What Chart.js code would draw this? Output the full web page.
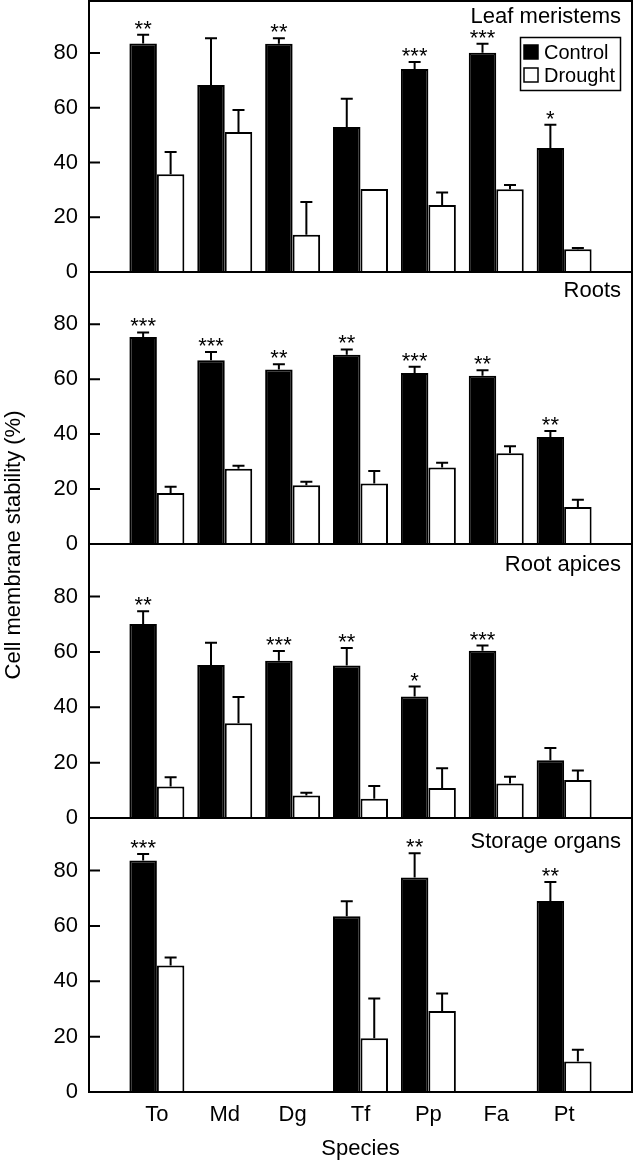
<!DOCTYPE html>
<html>
<head>
<meta charset="utf-8">
<script src="https://cdn.jsdelivr.net/npm/chart.js@4.4.1/dist/chart.umd.min.js"></script>
<style>
  html, body { margin: 0; padding: 0; background: #fff; }
  #wrap { position: relative; width: 633px; height: 1165px; }
  #wrap canvas { position: absolute; left: 0; top: 0; }
</style>
</head>
<body>
<div id="wrap">
  <canvas id="p0" width="633" height="1165"></canvas>
  <canvas id="p1" width="633" height="1165"></canvas>
  <canvas id="p2" width="633" height="1165"></canvas>
  <canvas id="p3" width="633" height="1165"></canvas>
</div>
<script>
const species = ["To", "Md", "Dg", "Tf", "Pp", "Fa", "Pt"];
const yTicks = [0, 20, 40, 60, 80];

// leaf meristems
const leafCtrl = [83.5, 68.3, 83.4, 53.0, 74.2, 80.1, 45.3];
const leafCtrlErr = [86.7, 85.4, 85.4, 63.3, 76.7, 83.4, 53.8];
const leafDrt = [35.7, 51.1, 13.6, 30.3, 24.5, 30.2, 8.3];
const leafDrtErr = [43.8, 59.2, 25.6, null, 29.0, 31.8, 8.8];
const leafStars = ["**", "", "**", "", "***", "***", "*"];

// roots
const rootCtrl = [75.3, 66.9, 63.5, 68.9, 62.2, 61.2, 38.9];
const rootCtrlErr = [77.0, 69.9, 65.4, 70.8, 64.5, 63.2, 41.1];
const rootDrt = [18.6, 27.4, 21.4, 22.0, 27.8, 33.0, 13.5];
const rootDrtErr = [20.8, 28.5, 22.7, 26.6, 29.6, 35.6, 16.1];
const rootStars = ["***", "***", "**", "**", "***", "**", "**"];

// root apices
const apexCtrl = [70.1, 55.3, 56.8, 55.1, 43.9, 60.4, 20.9];
const apexCtrlErr = [74.7, 63.3, 60.3, 61.4, 47.5, 62.3, 25.3];
const apexDrt = [11.4, 34.2, 8.1, 7.0, 10.8, 12.5, 13.7];
const apexDrtErr = [14.7, 43.7, 9.1, 11.6, 18.0, 14.9, 17.2];
const apexStars = ["**", "", "***", "**", "*", "***", ""];

// storage organs
const storCtrl = [83.6, null, null, 63.5, 77.5, null, 69.0];
const storCtrlErr = [86.0, null, null, 68.9, 86.3, null, 75.9];
const storDrt = [45.7, null, null, 19.4, 29.3, null, 11.0];
const storDrtErr = [48.6, null, null, 33.8, 35.6, null, 15.3];
const storStars = ["***", "", "", "", "**", "", "**"];

const FONT = '"Liberation Sans", Arial, Helvetica, sans-serif';
Chart.defaults.font.family = FONT;
Chart.defaults.color = "#000";

const panels = [
  { title: "Leaf meristems", top: 1, bottom: 272, titleY: 23,
    ctrl: leafCtrl, ctrlErr: leafCtrlErr, drt: leafDrt, drtErr: leafDrtErr, stars: leafStars },
  { title: "Roots", top: 272, bottom: 544, titleY: 297,
    ctrl: rootCtrl, ctrlErr: rootCtrlErr, drt: rootDrt, drtErr: rootDrtErr, stars: rootStars },
  { title: "Root apices", top: 544, bottom: 818, titleY: 571,
    ctrl: apexCtrl, ctrlErr: apexCtrlErr, drt: apexDrt, drtErr: apexDrtErr, stars: apexStars },
  { title: "Storage organs", top: 818, bottom: 1092, titleY: 848,
    ctrl: storCtrl, ctrlErr: storCtrlErr, drt: storDrt, drtErr: storDrtErr, stars: storStars },
];

// empty slot at each end so the groups sit where the original has them
const pad = (arr) => [null, ...arr, null];
const labels = ["", ...species, ""];

const errorBars = {
  id: "errorBars",
  afterDatasetsDraw(chart) {
    const ctx = chart.ctx;
    const y = chart.scales.y;
    ctx.save();
    ctx.strokeStyle = "#000";
    ctx.fillStyle = "#000";
    ctx.lineWidth = 2;
    ctx.font = "22px " + FONT;
    ctx.textAlign = "center";
    ctx.textBaseline = "alphabetic";
    chart.data.datasets.forEach((ds, di) => {
      const meta = chart.getDatasetMeta(di);
      meta.data.forEach((bar, i) => {
        const v = ds.data[i];
        const top = ds.errTop[i];
        if (v == null) return;
        let yt = y.getPixelForValue(v);
        if (top != null && top > v) {
          const yb = y.getPixelForValue(v);
          yt = y.getPixelForValue(top);
          ctx.beginPath();
          ctx.moveTo(bar.x, yb);
          ctx.lineTo(bar.x, yt);
          ctx.moveTo(bar.x - 6, yt);
          ctx.lineTo(bar.x + 6, yt);
          ctx.stroke();
        }
        if (ds.stars && ds.stars[i]) ctx.fillText(ds.stars[i], bar.x, yt + 1);
      });
    });
    ctx.restore();
  },
};

const frame = {
  id: "frame",
  afterDraw(chart, args, opts) {
    const ctx = chart.ctx;
    const a = chart.chartArea;
    const y = chart.scales.y;
    ctx.save();
    ctx.strokeStyle = "#000";
    ctx.lineWidth = 2;
    ctx.strokeRect(a.left, a.top, a.right - a.left, a.bottom - a.top);
    // tick marks point inwards
    ctx.beginPath();
    y.ticks.forEach((t) => {
      const py = y.getPixelForValue(t.value);
      ctx.moveTo(a.left, py);
      ctx.lineTo(a.left + 11, py);
    });
    ctx.stroke();
    ctx.fillStyle = "#000";
    ctx.font = "22px " + FONT;
    ctx.textAlign = "right";
    ctx.textBaseline = "alphabetic";
    ctx.fillText(opts.title, a.right - 11, opts.titleY);

    if (opts.legend) {
      const lx = a.right - 112, ly = 37;
      ctx.lineWidth = 1.5;
      ctx.strokeRect(lx + 0.5, ly + 0.5, 100, 53);
      ctx.font = "20px " + FONT;
      ctx.textAlign = "left";
      chart.data.datasets.forEach((ds, i) => {
        const sy = ly + 8 + i * 23;
        ctx.fillStyle = ds.backgroundColor;
        ctx.fillRect(lx + 4, sy, 14, 14);
        ctx.strokeRect(lx + 4, sy, 14, 14);
        ctx.fillStyle = "#000";
        ctx.fillText(ds.label, lx + 24, sy + 14);
      });
    }

    if (opts.yTitle) {
      ctx.save();
      ctx.translate(14, 545);
      ctx.rotate(-Math.PI / 2);
      ctx.font = "22px " + FONT;
      ctx.textAlign = "center";
      ctx.textBaseline = "middle";
      ctx.fillText(opts.yTitle, 0, 0);
      ctx.restore();
    }
    ctx.restore();
  },
};

panels.forEach((p, idx) => {
  const last = idx === panels.length - 1;
  new Chart(document.getElementById("p" + idx), {
    type: "bar",
    data: {
      labels: labels,
      datasets: [
        { label: "Control", data: pad(p.ctrl), errTop: pad(p.ctrlErr), stars: pad(p.stars),
          backgroundColor: "#000", borderColor: "#000", borderWidth: 2 },
        { label: "Drought", data: pad(p.drt), errTop: pad(p.drtErr), stars: null,
          backgroundColor: "#fff", borderColor: "#000", borderWidth: 2 },
      ],
    },
    options: {
      responsive: false,
      animation: false,
      devicePixelRatio: 1,
      categoryPercentage: 0.81,
      barPercentage: 1.0,
      layout: {
        padding: { top: p.top, left: 0, right: 1, bottom: last ? 0 : 1165 - p.bottom },
      },
      plugins: {
        legend: { display: false },
        tooltip: { enabled: false },
        frame: { title: p.title, titleY: p.titleY, legend: idx === 0,
                 yTitle: last ? "Cell membrane stability (%)" : null },
      },
      scales: {
        x: {
          type: "category",
          offset: false,
          display: last,
          grid: { display: false, drawTicks: false },
          border: { display: false },
          ticks: { autoSkip: false, maxRotation: 0, padding: 10, font: { size: 22 } },
          title: { display: true, text: "Species", font: { size: 22 }, padding: { top: 0, bottom: 3 } },
          afterFit(scale) {
            if (!last) return;
            scale.height = 1165 - p.bottom;
            scale.paddingLeft = 0;
            scale.paddingRight = 0;
          },
        },
        y: {
          min: 0,
          max: 99,
          grid: { display: false, drawTicks: false },
          border: { display: false },
          ticks: { padding: 11, font: { size: 22 } },
          afterBuildTicks(scale) { scale.ticks = yTicks.map((v) => ({ value: v })); },
          afterFit(scale) {
            scale.width = 89;
            scale.paddingTop = 0;
            scale.paddingBottom = 0;
          },
        },
      },
    },
    plugins: [errorBars, frame],
  });
});
</script>
</body>
</html>
